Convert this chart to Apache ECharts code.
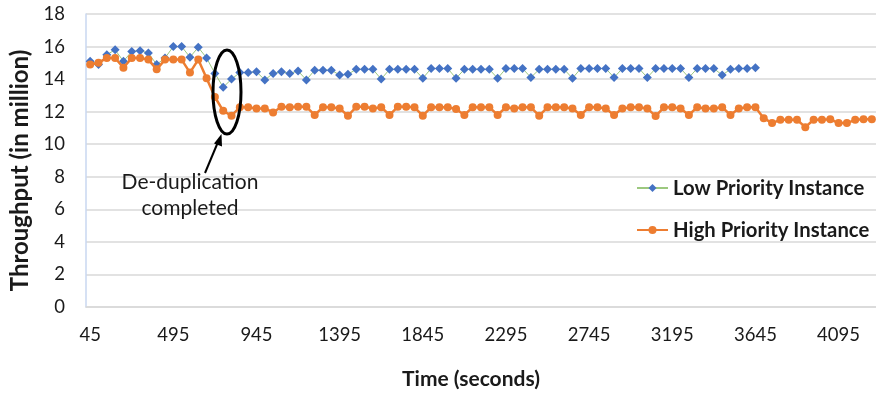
<!DOCTYPE html>
<html>
<head>
<meta charset="utf-8">
<script src="https://cdn.jsdelivr.net/npm/echarts@6/dist/echarts.min.js"></script>
<style>
  html, body { margin: 0; padding: 0; background: #fff; }
  #chart { width: 876px; height: 399px; }
</style>
</head>
<body>
<div id="chart"></div>
<script>
// Sample times (seconds), one every 45 s
const times = [];
for (let t = 45; t <= 4275; t += 45) times.push(String(t));

// Throughput of the low priority instance (million), stops at 3645 s
const lowPriority = [
  15.1, 14.9, 15.5, 15.8, 15.1, 15.7, 15.75, 15.6, 14.9, 15.3,
  16.0, 16.0, 15.35, 15.95, 15.3, 14.35, 13.5, 14.0, 14.4, 14.4,
  14.45, 13.95, 14.35, 14.45, 14.35, 14.5, 13.95, 14.55, 14.55, 14.55,
  14.25, 14.3, 14.6, 14.6, 14.6, 14.0, 14.6, 14.6, 14.6, 14.6,
  14.05, 14.65, 14.65, 14.65, 14.05, 14.6, 14.6, 14.6, 14.6, 14.05,
  14.65, 14.65, 14.65, 14.1, 14.6, 14.6, 14.6, 14.6, 14.05, 14.65,
  14.65, 14.65, 14.65, 14.1, 14.65, 14.65, 14.65, 14.1, 14.65, 14.65,
  14.65, 14.65, 14.1, 14.65, 14.65, 14.65, 14.25, 14.6, 14.65, 14.65,
  14.7
];

// Throughput of the high priority instance (million)
const highPriority = [
  14.9, 15.0, 15.3, 15.3, 14.7, 15.3, 15.3, 15.2, 14.6, 15.2,
  15.2, 15.2, 14.4, 15.2, 14.05, 12.9, 12.05, 11.75, 12.27, 12.27,
  12.2, 12.2, 11.95, 12.3, 12.27, 12.3, 12.3, 11.8, 12.27, 12.27,
  12.2, 11.75, 12.3, 12.3, 12.2, 12.27, 11.8, 12.3, 12.3, 12.27,
  11.75, 12.27, 12.27, 12.27, 12.16, 11.8, 12.27, 12.27, 12.27, 11.8,
  12.27, 12.2, 12.27, 12.27, 11.75, 12.27, 12.27, 12.27, 12.2, 11.8,
  12.27, 12.27, 12.2, 11.8, 12.2, 12.27, 12.27, 12.2, 11.73, 12.27,
  12.27, 12.2, 11.8, 12.27, 12.2, 12.2, 12.27, 11.8, 12.2, 12.27,
  12.27, 11.6, 11.3, 11.5, 11.5, 11.5, 11.05, 11.5, 11.5, 11.53,
  11.3, 11.3, 11.5, 11.53, 11.53
];

const seriesNames = ['Low Priority Instance', 'High Priority Instance'];
const yTicks = { min: 0, max: 18, interval: 2 };

const FONT = 'Lato, "Open Sans", sans-serif';
const TEXT = '#1a1a1a';

const chart = echarts.init(document.getElementById('chart'), null, { renderer: 'canvas' });

chart.setOption({
  animation: false,
  backgroundColor: '#ffffff',
  textStyle: { fontFamily: FONT },
  grid: { left: 86, right: -5, top: 14, bottom: 92, containLabel: false },
  legend: {
    orient: 'vertical',
    left: 631,
    top: 171,
    itemWidth: 31,
    itemHeight: 10,
    itemGap: 18,
    textStyle: { fontFamily: FONT, fontSize: 20.3, fontWeight: 'bold', color: TEXT, lineHeight: 24 },
    data: seriesNames
  },
  xAxis: {
    type: 'category',
    data: times,
    boundaryGap: true,
    name: 'Time (seconds)',
    nameLocation: 'middle',
    nameGap: 62,
    nameTextStyle: { fontFamily: FONT, fontSize: 21, fontWeight: 'bold', color: TEXT, padding: [0, 20, 0, 0] },
    axisLine: { show: true, lineStyle: { color: '#d9d9d9', width: 1.5 } },
    axisTick: { show: false },
    axisLabel: { interval: 9, margin: 19, fontFamily: FONT, fontSize: 18.5, color: TEXT },
    splitLine: { show: false }
  },
  yAxis: {
    type: 'value',
    min: yTicks.min,
    max: yTicks.max,
    interval: yTicks.interval,
    name: 'Throughput (in million)',
    nameLocation: 'middle',
    nameGap: 53,
    nameTextStyle: { fontFamily: FONT, fontSize: 24, fontWeight: 'bold', color: TEXT, padding: [0, 20, 0, 0] },
    axisLine: { show: true, lineStyle: { color: '#c9d7f0', width: 1.5 } },
    axisTick: { show: false },
    axisLabel: { margin: 21, fontFamily: FONT, fontSize: 18.5, color: TEXT },
    splitLine: { show: true, lineStyle: { color: '#d9d9d9', width: 1.5 } }
  },
  series: [
    {
      name: seriesNames[0],
      type: 'line',
      data: lowPriority,
      symbol: 'diamond',
      symbolSize: 9,
      showAllSymbol: true,
      lineStyle: { color: '#9cc87f', width: 1 },
      itemStyle: { color: '#4472c4' },
      z: 2
    },
    {
      name: seriesNames[1],
      type: 'line',
      data: highPriority,
      symbol: 'circle',
      symbolSize: 8,
      showAllSymbol: true,
      lineStyle: { color: '#ed7d31', width: 2.5 },
      itemStyle: { color: '#ed7d31' },
      z: 3
    }
  ],
  graphic: [
    {
      type: 'ellipse',
      shape: { cx: 227, cy: 92, rx: 14, ry: 42 },
      style: { fill: 'none', stroke: '#000', lineWidth: 3 },
      z: 10
    },
    {
      type: 'line',
      shape: { x1: 205, y1: 173, x2: 218, y2: 142 },
      style: { stroke: '#000', lineWidth: 2 },
      z: 10
    },
    {
      type: 'polygon',
      shape: { points: [[221.5, 134], [214, 143.5], [222, 146.5]] },
      style: { fill: '#000' },
      z: 10
    },
    {
      type: 'text',
      x: 190,
      y: 195,
      style: {
        text: 'De-duplication\ncompleted',
        fontFamily: FONT,
        fontSize: 21,
        lineHeight: 26,
        fill: TEXT,
        align: 'center',
        verticalAlign: 'middle'
      },
      z: 10
    }
  ]
});
</script>
</body>
</html>
